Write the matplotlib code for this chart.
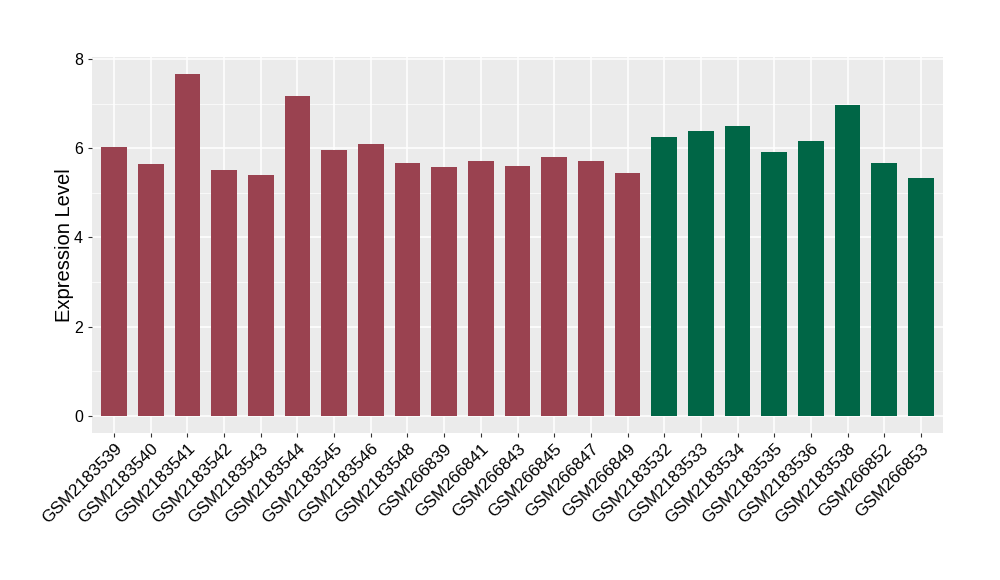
import numpy as np
import matplotlib
matplotlib.use('Agg')
import matplotlib.pyplot as plt
from matplotlib.ticker import MultipleLocator

plt.rcParams['font.family'] = ['Liberation Sans', 'DejaVu Sans']

# образцы первой группы
samples_a = ['GSM2183539', 'GSM2183540', 'GSM2183541', 'GSM2183542', 'GSM2183543',
             'GSM2183544', 'GSM2183545', 'GSM2183546', 'GSM2183548', 'GSM266839',
             'GSM266841', 'GSM266843', 'GSM266845', 'GSM266847', 'GSM266849']
values_a = [6.03, 5.65, 7.67, 5.52, 5.40, 7.17, 5.96, 6.10, 5.67, 5.58,
            5.72, 5.61, 5.81, 5.72, 5.45]

# образцы второй группы
samples_b = ['GSM2183532', 'GSM2183533', 'GSM2183534', 'GSM2183535', 'GSM2183536',
             'GSM2183538', 'GSM266852', 'GSM266853']
values_b = [6.26, 6.39, 6.50, 5.92, 6.17, 6.97, 5.67, 5.34]

color_a = '#9A4250'
color_b = '#006646'

samples = samples_a + samples_b
values = values_a + values_b
colors = [color_a] * len(samples_a) + [color_b] * len(samples_b)
x = np.arange(len(samples))

fig = plt.figure(figsize=(10, 5.8), dpi=100)
ax = fig.add_axes([0.092, 0.254, 0.851, 0.648])
ax.set_facecolor('#EBEBEB')

ax.bar(x, values, width=0.7, color=colors, zorder=3)

ax.set_xlim(-0.6, len(samples) - 0.4)
top = max(values)
ax.set_ylim(-0.05 * top, top * 1.05)

ax.yaxis.set_major_locator(MultipleLocator(2))
ax.yaxis.set_minor_locator(MultipleLocator(1))
ax.grid(which='major', axis='both', color='white', linewidth=1.1, zorder=0)
ax.grid(which='minor', axis='y', color='white', linewidth=0.5, zorder=0)

ax.set_xticks(x)
ax.set_xticklabels(samples, rotation=45, ha='right', rotation_mode='anchor', fontsize=12.3)
ax.tick_params(axis='y', labelsize=11.5)
ax.tick_params(which='major', length=3, color='#333333', labelcolor='black')
ax.tick_params(which='minor', length=0)
ax.tick_params(axis='x', pad=3)

for s in ax.spines.values():
    s.set_visible(False)

ax.set_ylabel('Expression Level', fontsize=14.5, labelpad=0)

fig.savefig('out.png', dpi=100)
